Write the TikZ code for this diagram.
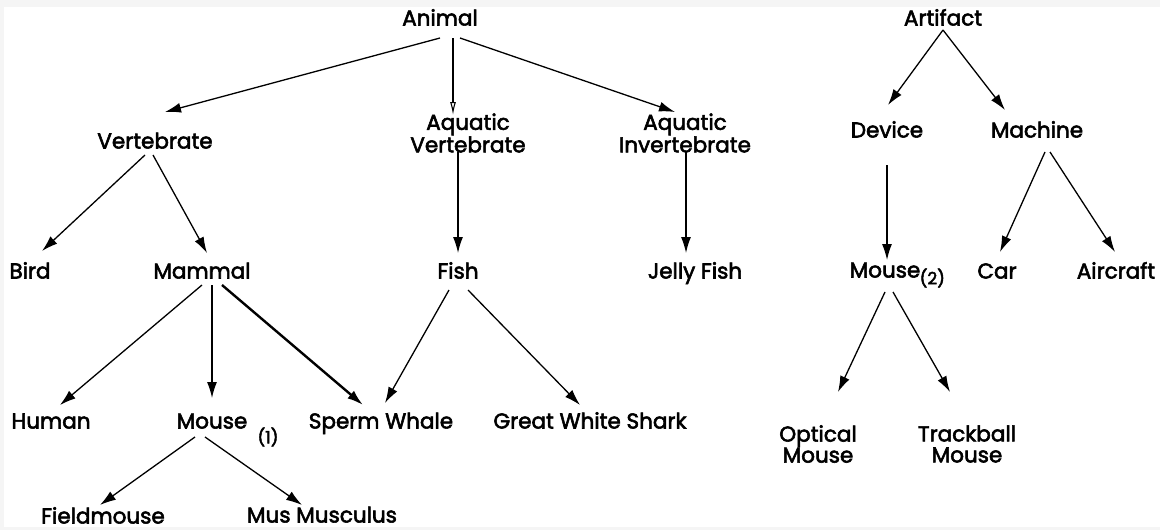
\documentclass[tikz,border=0pt]{standalone}
\usepackage{fontspec}
\setmainfont{Poppins}[UprightFeatures={FakeBold=2.6}]
\usetikzlibrary{arrows.meta,calc}
\definecolor{edgegray}{HTML}{F5F5F5}
\tikzset{
  lbl/.style={inner sep=0pt, font=\fontsize{21.5}{18.5}\selectfont, align=center, text=black},
  two/.style={inner sep=0pt, font=\fontsize{21.5}{21}\selectfont, align=center, text=black},
  one/.style={lbl, text height=15.5pt, text depth=4.5pt},
  small/.style={inner sep=0pt, font=\fontsize{17}{17}\selectfont, text=black},
  arr/.style={line width=1.3pt, -{Latex[length=16pt,width=10pt]}},
  thickarr/.style={line width=2.4pt, -{Latex[length=16pt,width=10pt]}},
  openarr/.style={line width=1.1pt, -{Latex[open,length=13pt,width=6pt]}}
}
\begin{document}
\begin{tikzpicture}[x=1pt,y=-1pt]
\fill[edgegray] (0,0) rectangle (1160,530);
\fill[white] (4,7) rectangle (1160,527);
\useasboundingbox (0,0) rectangle (1160,530);
% nodes
\node[one] (animal) at (440,20) {Animal};
\node[one] (artifact) at (943,20) {Artifact};
\node[one] (vert) at (155,143) {Vertebrate};
\node[lbl] (aqvert) at (468,133) {Aquatic\\Vertebrate};
\node[lbl] (aqinv) at (685,133) {Aquatic\\Invertebrate};
\node[one] (device) at (887,132) {Device};
\node[one] (machine) at (1037,132) {Machine};
\node[one] (bird) at (30,273) {Bird};
\node[one] (mammal) at (202,273) {Mammal};
\node[one] (fish) at (458,273) {Fish};
\node[one] (jelly) at (695,273) {Jelly Fish};
\node[one] (mousetwo) at (885,272) {Mouse};
\node[small, anchor=west] (two) at ($(mousetwo.east)+(-1,6)$) {(2)};
\node[one] (car) at (997,273) {Car};
\node[one] (aircraft) at (1116,273) {Aircraft};
\node[one] (human) at (51,423) {Human};
\node[one] (mouseone) at (212,423) {Mouse};
\node[small] (one) at (268,437) {(1)};
\node[one] (whale) at (381,423) {Sperm Whale};
\node[one] (shark) at (590,423) {Great White Shark};
\node[two] (optical) at (818,444) {Optical\\Mouse};
\node[two] (trackball) at (967,444) {Trackball\\Mouse};
\node[one] (field) at (103,518) {Fieldmouse};
\node[one] (mus) at (322,517) {Mus Musculus};
% connectors
\draw[arr] ($(animal)+(0,18)$) -- ($(vert)+(10,-31)$);
\draw[openarr] ($(animal)+(13,18)$) -- ($(aqvert)+(-15,-18)$);
\draw[arr] ($(animal)+(20,18)$) -- ($(aqinv)+(-10,-21)$);
\draw[arr] ($(vert)+(-10,12)$) -- ($(bird)+(12,-22)$);
\draw[arr] ($(vert)+(-2,12)$) -- ($(mammal)+(5,-20)$);
\draw[arr] ($(aqvert)+(-10,19)$) -- ($(fish)+(0,-20)$);
\draw[arr] ($(aqinv)+(1,19)$) -- ($(jelly)+(-9,-20)$);
\draw[arr] ($(artifact)+(0,10)$) -- ($(device)+(1,-27)$);
\draw[arr] ($(artifact)+(0,10)$) -- ($(machine)+(-32,-22)$);
\draw[arr] ($(device)+(0,33)$) -- ($(mousetwo)+(2,-12)$);
\draw[arr] ($(machine)+(8,20)$) -- ($(car)+(3,-21)$);
\draw[arr] ($(machine)+(13,20)$) -- ($(aircraft)+(-1,-21)$);
\draw[arr] ($(mammal)+(0,12)$) -- ($(human)+(9,-18)$);
\draw[arr] ($(mammal)+(10,12)$) -- ($(mouseone)+(0,-25)$);
\draw[thickarr] ($(mammal)+(20,12)$) -- ($(whale)+(-18,-18)$);
\draw[arr] ($(fish)+(-9,17)$) -- ($(whale)+(4,-20)$);
\draw[arr] ($(fish)+(10,17)$) -- ($(shark)+(-10,-18)$);
\draw[arr] ($(mouseone)+(-17,14)$) -- ($(field)+(-3,-13)$);
\draw[arr] ($(mouseone)+(-7,14)$) -- ($(mus)+(-20,-12)$);
\draw[arr] ($(mousetwo)+(0,20)$) -- ($(optical)+(20,-52)$);
\draw[arr] ($(mousetwo)+(8,20)$) -- ($(trackball)+(-17,-52)$);
\end{tikzpicture}
\end{document}
